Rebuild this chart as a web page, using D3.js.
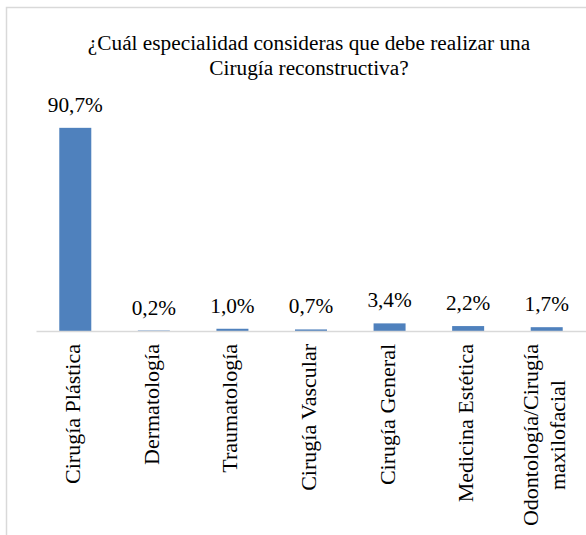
<!DOCTYPE html>
<html>
<head>
<meta charset="utf-8">
<script src="https://cdn.jsdelivr.net/npm/d3@7"></script>
<style>
  body { margin: 0; background: #fff; }
  text { font-family: "Liberation Serif", "Times New Roman", serif; fill: #000; }
</style>
</head>
<body>
<div id="chart"></div>
<script>
// Data
const categories = [
  "Cirugía Plástica",
  "Dermatología",
  "Traumatología",
  "Cirugía Vascular",
  "Cirugía General",
  "Medicina Estética",
  "Odontología/Cirugía\nmaxilofacial"
];
const percentages = [90.7, 0.2, 1.0, 0.7, 3.4, 2.2, 1.7];
const titleLines = ["¿Cuál especialidad consideras que debe realizar una", "Cirugía reconstructiva?"];

const W = 586, H = 535;
const margin = { top: 107, right: 0, bottom: 204, left: 36 };
const fontSize = 21.3;
const catFontSize = 22;

const svg = d3.select("#chart")
  .append("svg")
  .attr("width", W)
  .attr("height", H);

// chart frame (extends past the picture on right / bottom)
svg.append("rect")
  .attr("x", 6.5)
  .attr("y", 7.5)
  .attr("width", W + 20)
  .attr("height", H + 20)
  .attr("fill", "#fff")
  .attr("stroke", "#d9d9d9")
  .attr("stroke-width", 1.5);

// title
svg.append("text")
  .attr("text-anchor", "middle")
  .style("font-size", fontSize + "px")
  .selectAll("tspan")
  .data(titleLines)
  .join("tspan")
  .attr("x", 309)
  .attr("y", (d, i) => 50 + i * 24.5)
  .text(d => d);

const data = categories.map((c, i) => ({ cat: c, value: percentages[i] }));

const x = d3.scaleBand()
  .domain(categories)
  .range([margin.left, W - margin.right])
  .padding(0);

const y = d3.scaleLinear()
  .domain([0, 100])
  .range([H - margin.bottom, margin.top]);

const barW = 32;

// bars
svg.selectAll(".bar")
  .data(data)
  .join("rect")
  .attr("class", "bar")
  .attr("x", d => x(d.cat) + x.bandwidth() / 2 - barW / 2)
  .attr("y", d => y(d.value))
  .attr("width", barW)
  .attr("height", d => y(0) - y(d.value))
  .attr("fill", "#4f81bd");

// value labels
const fmt = v => d3.format(".1f")(v).replace(".", ",") + "%";
svg.selectAll(".value-label")
  .data(data)
  .join("text")
  .attr("class", "value-label")
  .attr("x", d => x(d.cat) + x.bandwidth() / 2)
  .attr("y", d => y(d.value) - 16)
  .attr("text-anchor", "middle")
  .style("font-size", fontSize + "px")
  .text(d => fmt(d.value));

// x axis line
const xAxis = svg.append("g")
  .attr("transform", `translate(0, ${y(0)})`)
  .call(d3.axisBottom(x).tickSize(0).tickFormat(""));
xAxis.select(".domain")
  .attr("stroke", "#d9d9d9")
  .attr("stroke-width", 1.5);

// category labels, rotated, multi-line centred
const labelTop = y(0) + 13;
const lineGap = 27;
svg.selectAll(".cat-label")
  .data(categories)
  .join("text")
  .attr("class", "cat-label")
  .attr("text-anchor", "middle")
  .style("font-size", catFontSize + "px")
  .each(function (d) {
    const t = d3.select(this);
    const lines = d.split("\n");
    lines.forEach((ln, i) => {
      t.append("tspan")
        .attr("x", 0)
        .attr("y", 5 + (i - (lines.length - 1) / 2) * lineGap)
        .text(ln);
    });
    let maxLen = 0;
    t.selectAll("tspan").each(function () {
      maxLen = Math.max(maxLen, this.getComputedTextLength());
    });
    const cx = x(d) + x.bandwidth() / 2;
    t.attr("transform", `translate(${cx}, ${labelTop + maxLen / 2}) rotate(-90)`);
  });
</script>
</body>
</html>
